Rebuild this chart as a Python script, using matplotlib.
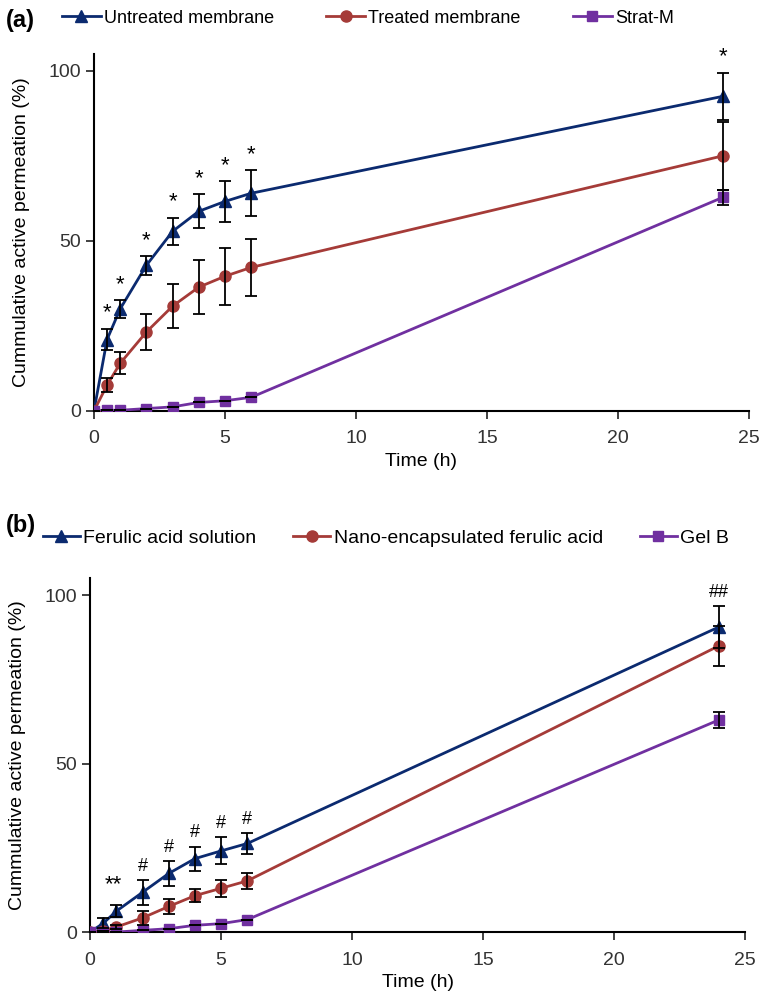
import matplotlib.pyplot as plt
import numpy as np

plt.rcParams['font.family'] = ['Liberation Sans', 'DejaVu Sans']
plt.rcParams['font.size'] = 14

time = [0, 0.5, 1, 2, 3, 4, 5, 6, 24]

# panel (a)
untreated = [0, 21, 30, 42.8, 52.8, 58.7, 61.6, 64, 92.5]
untreated_err = [0, 3.2, 2.6, 2.8, 4, 5, 6, 6.7, 7]
treated = [0, 7.6, 14, 23.2, 30.8, 36.4, 39.6, 42.2, 75]
treated_err = [0, 2, 3.2, 5.2, 6.5, 8, 8.4, 8.4, 10]
stratm = [0, 0.2, 0.2, 0.7, 1.2, 2.5, 3, 4, 62.8]
stratm_err = [0, 0, 0, 0, 0, 0, 0, 0, 2.2]
stars_a = ['', '*', '*', '*', '*', '*', '*', '*', '*']

# panel (b)
solution = [0, 2.6, 6.2, 11.8, 17.4, 21.8, 24.1, 26.3, 90.6]
solution_err = [0, 1.5, 1.7, 3.7, 3.8, 3.6, 4, 3.1, 6.2]
nano = [0, 0.3, 1.5, 4.2, 7.6, 10.8, 13, 15.2, 85]
nano_err = [0, 0, 0.5, 2, 2.1, 1.9, 2.5, 2.4, 6]
gel = [0, 0, 0, 0.5, 1, 2, 2.5, 3.7, 63]
gel_err = [0, 0, 0, 0, 0, 0, 0, 0, 2.4]
marks_b = ['', '', '', '#', '#', '#', '#', '#', '##']

navy = '#0B2A6F'
red = '#A53B38'
purple = '#7030A0'

fig = plt.figure(figsize=(7.67, 10.06), dpi=100)
ax_a = fig.add_axes([0.1225, 0.5915, 0.854, 0.355])
ax_b = fig.add_axes([0.1175, 0.0735, 0.854, 0.3515])


def draw(ax, series, labels, legend_pos, legend_opts, marks, mark_series, mark_err):
    styles = [(navy, '^', 8), (red, 'o', 8), (purple, 's', 7)]
    handles = []
    for (y, err), (color, marker, ms), label in zip(series, styles, labels):
        line, = ax.plot(time, y, color=color, marker=marker, markersize=ms, linewidth=2,
                        label=label, zorder=3)
        ax.errorbar(time, y, yerr=err, fmt='none', ecolor='black', elinewidth=1.3,
                    capsize=4, capthick=1.3, zorder=4)
        handles.append(line)
    for t, m, y, e in zip(time, marks, mark_series, mark_err):
        if m:
            ax.text(t, y + e + 1.5, m, ha='center', va='bottom', fontsize=16 if '*' in m else 13)
    ax.set_xlim(0, 25)
    ax.set_ylim(0, 105)
    ax.set_xticks([0, 5, 10, 15, 20, 25])
    ax.set_yticks([0, 50, 100])
    ax.spines['top'].set_visible(False)
    ax.spines['right'].set_visible(False)
    ax.spines['left'].set_linewidth(1.5)
    ax.spines['bottom'].set_linewidth(1.5)
    ax.tick_params(direction='out', length=6, width=1.3, labelsize=14, colors='#333333')
    ax.tick_params(axis='x', pad=8)
    ax.set_xlabel('Time (h)', fontsize=14, labelpad=4)
    ax.set_ylabel('Cummulative active permeation (%)', fontsize=14, labelpad=13)
    ax.legend(handles=handles, loc='center left', bbox_to_anchor=legend_pos, ncol=3,
              frameon=False, borderaxespad=0, borderpad=0, **legend_opts)


draw(ax_a, [(untreated, untreated_err), (treated, treated_err), (stratm, stratm_err)],
     ['Untreated membrane', 'Treated membrane', 'Strat-M'], (-0.049, 1.10),
     dict(fontsize=13, handlelength=2.15, handletextpad=0.17, columnspacing=2.9),
     stars_a, untreated, untreated_err)
draw(ax_b, [(solution, solution_err), (nano, nano_err), (gel, gel_err)],
     ['Ferulic acid solution', 'Nano-encapsulated ferulic acid', 'Gel B'], (-0.072, 1.115),
     dict(fontsize=14, handlelength=1.9, handletextpad=0.17, columnspacing=1.9),
     marks_b, solution, solution_err)
ax_b.text(0.9, 11, '**', ha='center', va='bottom', fontsize=16)

fig.text(0.008, 0.98, '(a)', fontsize=17, fontweight='bold', va='center')
fig.text(0.008, 0.478, '(b)', fontsize=17, fontweight='bold', va='center')

fig.savefig('out.png', dpi=100)
